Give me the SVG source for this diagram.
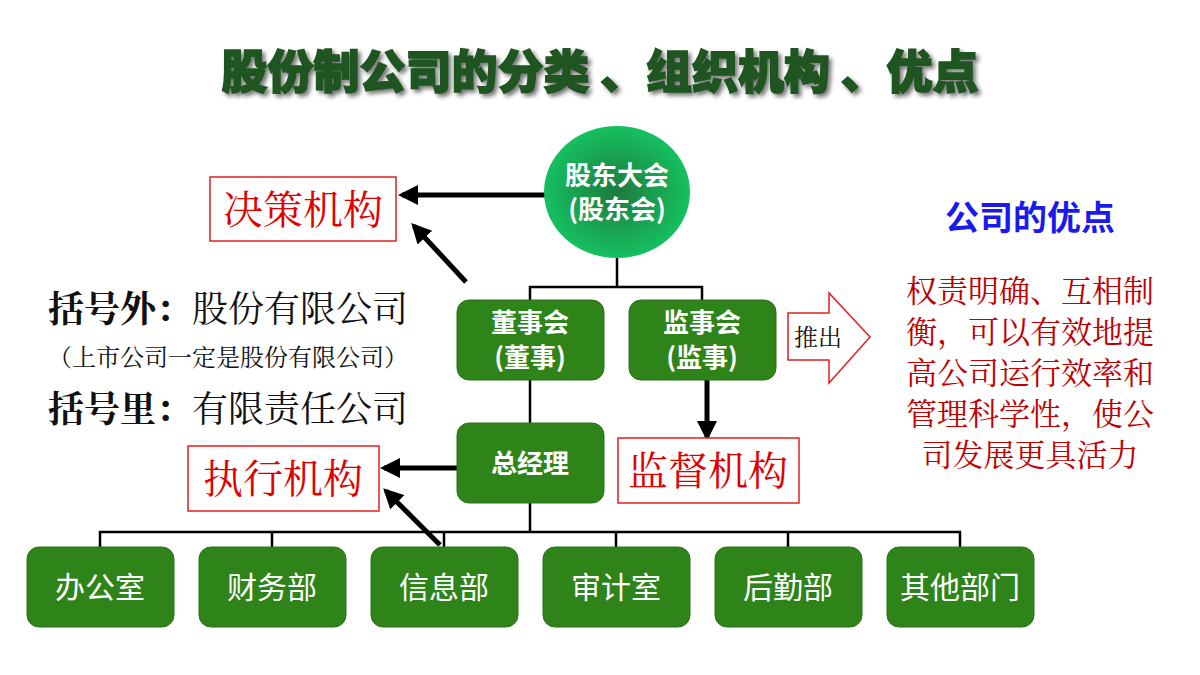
<svg xmlns="http://www.w3.org/2000/svg" width="1200" height="675" viewBox="0 0 1200 675">
<defs>
<marker id="ah" viewBox="0 0 10 10" refX="8" refY="5" markerWidth="4" markerHeight="4" orient="auto"><path d="M0,0 L10,5 L0,10 z" fill="#000"/></marker>
<radialGradient id="cg"><stop offset="0" stop-color="#1e7a3e"/><stop offset="1" stop-color="#15c060"/></radialGradient>
<style>
.n{fill:#2e8419;stroke:#2a7018;stroke-width:1}
.w{fill:#fff;font-family:"Noto Sans CJK SC",sans-serif;font-weight:bold;text-anchor:middle}
.d{fill:#fff;font-family:"Noto Sans CJK SC",sans-serif;font-size:30px;text-anchor:middle}
.lb{fill:#fff;stroke:#e02020;stroke-width:1.5}
.rt{fill:#e00000;font-family:"Noto Serif CJK SC","Noto Sans CJK SC",serif;font-size:40px;text-anchor:middle}
.k{fill:#111;font-family:"Noto Serif CJK SC","Noto Sans CJK SC",serif;text-anchor:middle}
.c{stroke:#000;fill:none}
</style>
</defs>
<rect width="1200" height="675" fill="#fff"/>
<text x="600" y="88" font-family="Noto Sans CJK SC,sans-serif" font-weight="900" font-size="46" fill="#1f5520" text-anchor="middle" stroke="#1f5520" stroke-width="1.5" style="filter:drop-shadow(3px 3px 2px #777)">股份制公司的分类 、组织机构 、优点</text>
<g id="connectors">
<path class="c" stroke-width="2.5" d="M617,257V287M530,300V287H702V300M530,380V423M530,503V532M100,547V532H960V547M272,532V547M444,532V547M616,532V547M788,532V547"/>
<path class="c" stroke-width="5" marker-end="url(#ah)" d="M545,195H402"/>
<path class="c" stroke-width="5" marker-end="url(#ah)" d="M466,282L414,226"/>
<path class="c" stroke-width="5" marker-end="url(#ah)" d="M707,380V437"/>
<path class="c" stroke-width="5" marker-end="url(#ah)" d="M457,468H384"/>
<path class="c" stroke-width="5" marker-end="url(#ah)" d="M440,545L386,491"/>
</g>
<g id="gudong"><ellipse cx="617" cy="192" rx="73" ry="66" fill="url(#cg)"/><text class="w" x="617" y="185" font-size="26">股东大会</text><text class="w" x="617" y="219" font-size="26">(股东会)</text></g>
<g id="dongshi"><rect class="n" x="457" y="300" width="147" height="80" rx="12"/><text class="w" x="530" y="332" font-size="26">董事会</text><text class="w" x="530" y="367" font-size="26">(董事)</text></g>
<g id="jianshi"><rect class="n" x="629" y="300" width="147" height="80" rx="12"/><text class="w" x="702" y="332" font-size="26">监事会</text><text class="w" x="702" y="367" font-size="26">(监事)</text></g>
<g id="zongjingli"><rect class="n" x="457" y="423" width="147" height="80" rx="12"/><text class="w" x="530" y="473" font-size="26">总经理</text></g>
<g id="d1"><rect class="n" x="27" y="547" width="147" height="80" rx="12"/><text class="d" x="100" y="598">办公室</text></g>
<g id="d2"><rect class="n" x="199" y="547" width="147" height="80" rx="12"/><text class="d" x="272" y="598">财务部</text></g>
<g id="d3"><rect class="n" x="371" y="547" width="147" height="80" rx="12"/><text class="d" x="444" y="598">信息部</text></g>
<g id="d4"><rect class="n" x="543" y="547" width="147" height="80" rx="12"/><text class="d" x="616" y="598">审计室</text></g>
<g id="d5"><rect class="n" x="715" y="547" width="147" height="80" rx="12"/><text class="d" x="788" y="598">后勤部</text></g>
<g id="d6"><rect class="n" x="887" y="547" width="147" height="80" rx="12"/><text class="d" x="960" y="598">其他部门</text></g>
<g id="juece"><rect class="lb" x="210" y="177" width="186" height="64"/><text class="rt" x="303" y="224">决策机构</text></g>
<g id="jiandu"><rect class="lb" x="618" y="438" width="181" height="65"/><text class="rt" x="708" y="485">监督机构</text></g>
<g id="zhixing"><rect class="lb" x="188" y="446" width="191" height="65"/><text class="rt" x="283" y="493">执行机构</text></g>
<g id="tuichu"><path d="M788,313H829V293L870,337L829,383V360H788Z" fill="#fff" stroke="#e02020" stroke-width="1.5"/><text class="k" x="818" y="346" font-size="24" font-family="Noto Sans CJK SC,sans-serif">推出</text></g>
<text class="k" x="228" y="322" font-size="36"><tspan font-weight="bold">括号外：</tspan>股份有限公司</text>
<text class="k" x="228" y="366" font-size="24">（上市公司一定是股份有限公司）</text>
<text class="k" x="228" y="422" font-size="36"><tspan font-weight="bold">括号里：</tspan>有限责任公司</text>
<text x="1030" y="230" font-family="Noto Sans CJK SC,sans-serif" font-weight="bold" font-size="34" fill="#1a1aee" text-anchor="middle">公司的优点</text>
<g font-family="Noto Serif CJK SC,Noto Sans CJK SC,serif" font-size="31" fill="#c00000" text-anchor="middle">
<text x="1030" y="302">权责明确、互相制</text>
<text x="1030" y="343">衡，可以有效地提</text>
<text x="1030" y="384">高公司运行效率和</text>
<text x="1030" y="425">管理科学性，使公</text>
<text x="1030" y="466">司发展更具活力</text>
</g>
</svg>
